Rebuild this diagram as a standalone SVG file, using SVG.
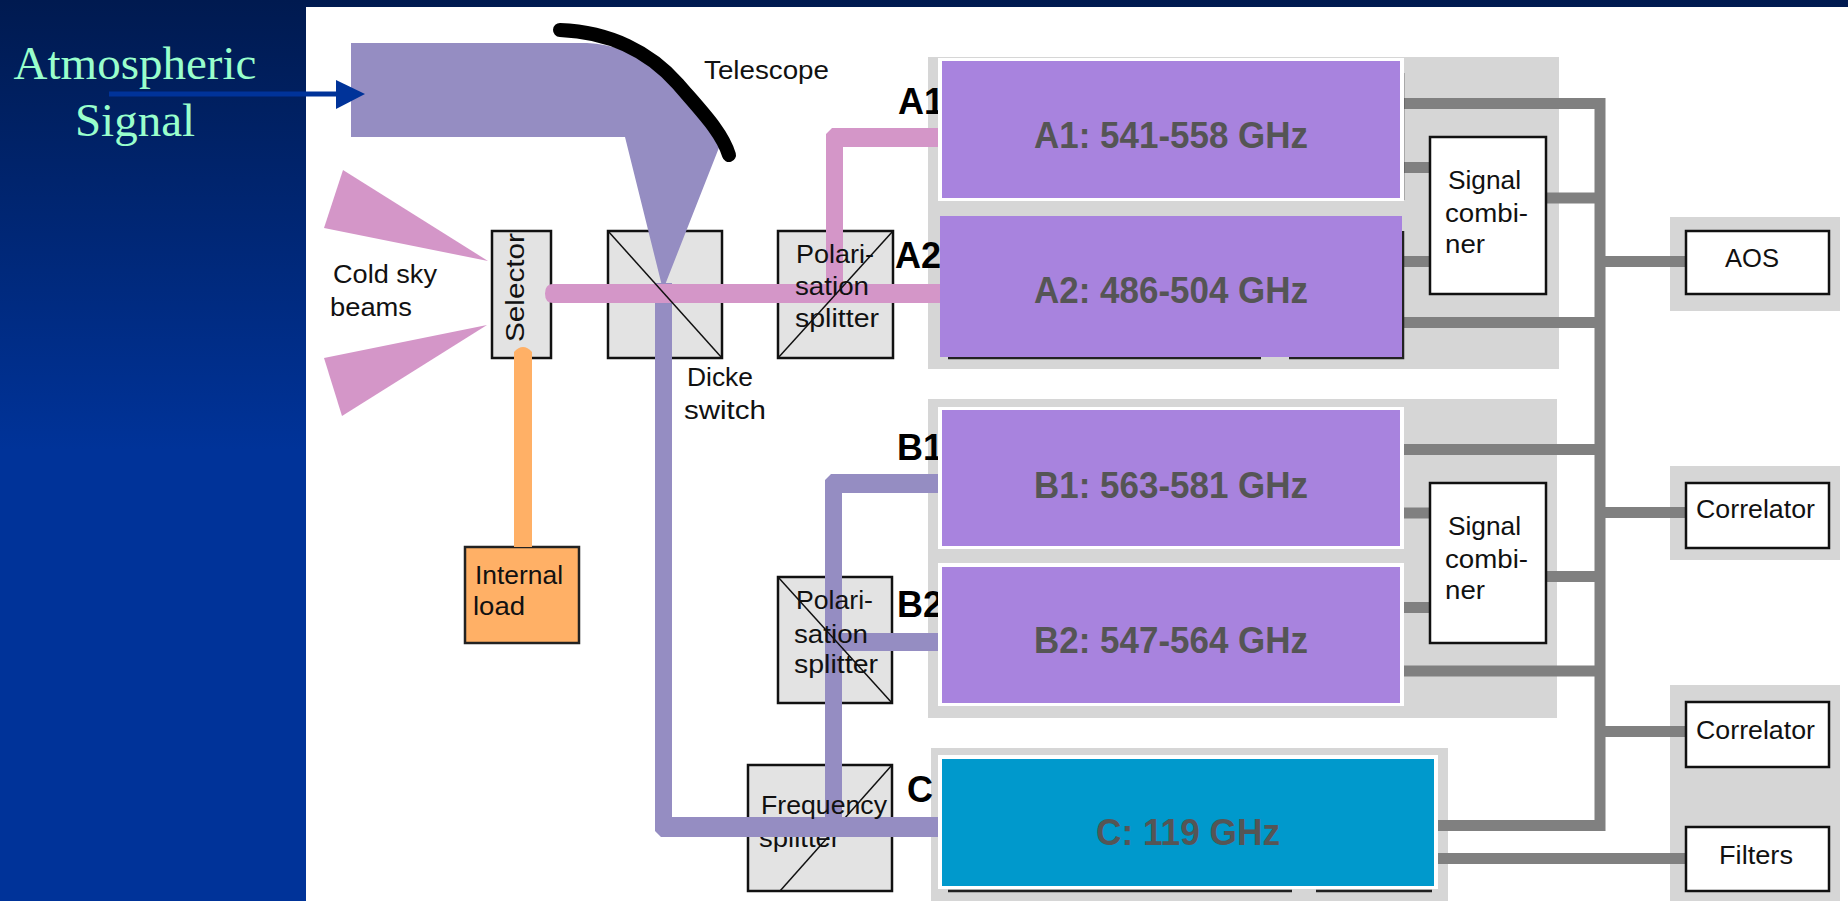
<svg xmlns="http://www.w3.org/2000/svg" width="1848" height="901" viewBox="0 0 1848 901">
<style>
.t{font-family:"Liberation Sans",Arial,sans-serif;font-size:25px;fill:#111}
.head{font-family:"Liberation Sans",Arial,sans-serif;font-size:36px;font-weight:bold;fill:#000}
.band{font-family:"Liberation Sans",Arial,sans-serif;font-size:36px;font-weight:bold;fill:#555}
.sig{font-family:"Liberation Serif","Times New Roman",serif;font-size:47px;fill:#99FFCC;text-anchor:middle}
.panel{fill:#D6D6D6}
.box{fill:#E3E3E3;stroke:#111;stroke-width:2.5}
.wbox{fill:#fff;stroke:#111;stroke-width:2.5}
.diag{stroke:#111;stroke-width:1.5;fill:none}
.purple{fill:#A883DE}
.edge{fill:#fff}
.sh{stroke:#222;stroke-width:2.5;fill:none}
.g{fill:none;stroke:#808080;stroke-width:11}
.pink{fill:#D496C8}
.blue{fill:#958DC2}
</style>
<defs>
<linearGradient id="bg" x1="0" y1="0" x2="0" y2="1">
<stop offset="0" stop-color="#001A50"/>
<stop offset="0.5" stop-color="#003399"/>
<stop offset="1" stop-color="#003399"/>
</linearGradient>
</defs>
<rect width="1848" height="901" fill="url(#bg)"/>
<rect x="306" y="7" width="1542" height="894" fill="#fff"/>
<g id="backdrops">
<rect class="panel" x="928" y="57" width="631" height="312"/>
<rect class="panel" x="928" y="399" width="629" height="319"/>
<rect class="panel" x="931" y="748" width="517" height="153"/>
<rect class="panel" x="1670" y="217" width="170" height="94"/>
<rect class="panel" x="1670" y="466" width="170" height="94"/>
<rect class="panel" x="1670" y="685" width="170" height="216"/>
</g>
<g id="cold-sky">
<polygon class="pink" points="343,170 324,228 488,261"/>
<polygon class="pink" points="324,358 342,416 487,325"/>
<text class="t" x="333" y="283" textLength="104" lengthAdjust="spacingAndGlyphs">Cold sky</text>
<text class="t" x="330" y="316" textLength="82" lengthAdjust="spacingAndGlyphs">beams</text>
</g>
<g id="selector">
<rect class="box" x="492" y="231" width="59" height="127"/>
<text class="t" transform="translate(524 342) rotate(-90)" textLength="109" lengthAdjust="spacingAndGlyphs">Selector</text>
</g>
<g id="dicke-switch">
<rect class="box" x="608" y="231" width="114" height="127"/>
</g>
<g id="polar-a">
<rect class="box" x="778" y="231" width="115" height="127"/>
</g>
<g id="polar-b">
<rect class="box" x="778" y="577" width="114" height="126"/>
</g>
<g id="freq-splitter">
<rect class="box" x="748" y="765" width="144" height="126"/>
<path class="diag" d="M892 765L780 891"/>
<text class="t" x="759" y="847" textLength="81" lengthAdjust="spacingAndGlyphs">splitter</text>
</g>
<g id="internal-load">
<rect x="465" y="547" width="114" height="96" fill="#FFB066" stroke="#222" stroke-width="2.5"/>
<text class="t" x="475" y="584" textLength="88" lengthAdjust="spacingAndGlyphs">Internal</text>
<text class="t" x="473" y="615" textLength="52" lengthAdjust="spacingAndGlyphs">load</text>
</g>
<g id="telescope">
<path d="M351 43H587Q625 45 652 66Q690 100 722 140L663 290L625 137H351Z" fill="#958DC2"/>
<path d="M560 30C610 32 650 52 678 84C702 112 722 132 729 155" fill="none" stroke="#000" stroke-width="14" stroke-linecap="round"/>
<text class="t" x="704" y="79" textLength="125" lengthAdjust="spacingAndGlyphs">Telescope</text>
</g>
<g id="connectors">
<path d="M514 547V352Q523 342 532 352V547Z" fill="#FFB066"/>
<path class="blue" d="M655 283H672V817H945V837H661L655 831Z"/>
<path class="blue" d="M825 817V480L831 474H945V493H842V633H945V651H842V817Z"/>
<path class="pink" d="M826 284V134L832 128H945V147H843V284H945V303H553Q545 303 545 293.500Q545 284 553 284Z"/>
<path class="g" d="M1404 103.500H1600V825.500H1438"/>
<path class="g" d="M1404 167.500H1430M1404 261.500H1430M1546 198H1600M1404 322.500H1600M1605 261.500H1686"/>
<path class="g" d="M1404 449.500H1600M1404 513H1430M1404 607.500H1430M1546 576.500H1600M1404 671H1600M1605 512.500H1686M1605 731.500H1686M1438 858.500H1686"/>
</g>
<g id="switch-marks">
<path class="diag" d="M608 231L722 358"/>
<path class="diag" d="M893 231L778 358"/>
<path class="diag" d="M778 577L892 703"/>
</g>
<g id="polar-a-label">
<text class="t" x="796" y="263" textLength="78" lengthAdjust="spacingAndGlyphs">Polari-</text>
<text class="t" x="795" y="295" textLength="74" lengthAdjust="spacingAndGlyphs">sation</text>
<text class="t" x="795" y="327" textLength="84" lengthAdjust="spacingAndGlyphs">splitter</text>
</g>
<g id="polar-b-label">
<text class="t" x="796" y="609" textLength="77" lengthAdjust="spacingAndGlyphs">Polari-</text>
<text class="t" x="794" y="643" textLength="74" lengthAdjust="spacingAndGlyphs">sation</text>
<text class="t" x="794" y="673" textLength="84" lengthAdjust="spacingAndGlyphs">splitter</text>
</g>
<g id="freq-splitter-label">
<text class="t" x="761" y="814" textLength="126" lengthAdjust="spacingAndGlyphs">Frequency</text>
</g>
<g id="dicke-label">
<text class="t" x="687" y="386" textLength="66" lengthAdjust="spacingAndGlyphs">Dicke</text>
<text class="t" x="684" y="419" textLength="82" lengthAdjust="spacingAndGlyphs">switch</text>
</g>
<g id="channel-labels">
<text class="head" x="898" y="114">A1</text>
<text class="head" x="895" y="268">A2</text>
<text class="head" x="897" y="460">B1</text>
<text class="head" x="897" y="617">B2</text>
<text class="head" x="907" y="802">C</text>
</g>
<g id="rx-a1">
<path class="sh" d="M1403 73V200"/>
<rect class="edge" x="938" y="58" width="466" height="143"/>
<rect class="purple" x="942" y="61" width="458" height="137"/>
<text class="band" x="1034" y="148" textLength="274" lengthAdjust="spacingAndGlyphs">A1: 541-558 GHz</text>
</g>
<g id="rx-a2">
<path class="sh" d="M1403 231V358H1289M1261 358H948"/>
<rect class="purple" x="940" y="216" width="462" height="141"/>
<text class="band" x="1034" y="303" textLength="274" lengthAdjust="spacingAndGlyphs">A2: 486-504 GHz</text>
</g>
<g id="rx-b1">
<rect class="edge" x="938" y="407" width="466" height="142"/>
<rect class="purple" x="942" y="410" width="458" height="136"/>
<text class="band" x="1034" y="498" textLength="274" lengthAdjust="spacingAndGlyphs">B1: 563-581 GHz</text>
</g>
<g id="rx-b2">
<rect class="edge" x="938" y="563" width="466" height="143"/>
<rect class="purple" x="942" y="567" width="458" height="136"/>
<text class="band" x="1034" y="653" textLength="274" lengthAdjust="spacingAndGlyphs">B2: 547-564 GHz</text>
</g>
<g id="rx-c">
<path class="sh" d="M948 891H1292M1316 891H1432"/>
<rect class="edge" x="938" y="755" width="500" height="134"/>
<rect x="942" y="759" width="492" height="127" fill="#0099CC"/>
<text class="band" x="1096" y="845" textLength="184" lengthAdjust="spacingAndGlyphs">C: 119 GHz</text>
</g>
<g id="combiner-a">
<rect class="wbox" x="1430" y="137" width="116" height="157"/>
<text class="t" x="1448" y="189" textLength="73" lengthAdjust="spacingAndGlyphs">Signal</text>
<text class="t" x="1445" y="222" textLength="83" lengthAdjust="spacingAndGlyphs">combi-</text>
<text class="t" x="1445" y="253" textLength="40" lengthAdjust="spacingAndGlyphs">ner</text>
</g>
<g id="combiner-b">
<rect class="wbox" x="1430" y="483" width="116" height="160"/>
<text class="t" x="1448" y="535" textLength="73" lengthAdjust="spacingAndGlyphs">Signal</text>
<text class="t" x="1445" y="568" textLength="83" lengthAdjust="spacingAndGlyphs">combi-</text>
<text class="t" x="1445" y="599" textLength="40" lengthAdjust="spacingAndGlyphs">ner</text>
</g>
<g id="aos">
<rect class="wbox" x="1686" y="231" width="143" height="63"/>
<text class="t" x="1725" y="267" textLength="54" lengthAdjust="spacingAndGlyphs">AOS</text>
</g>
<g id="correlator-1">
<rect class="wbox" x="1686" y="483" width="143" height="65"/>
<text class="t" x="1696" y="518" textLength="119" lengthAdjust="spacingAndGlyphs">Correlator</text>
</g>
<g id="correlator-2">
<rect class="wbox" x="1686" y="702" width="143" height="65"/>
<text class="t" x="1696" y="739" textLength="119" lengthAdjust="spacingAndGlyphs">Correlator</text>
</g>
<g id="filters">
<rect class="wbox" x="1686" y="827" width="143" height="64"/>
<text class="t" x="1719" y="864" textLength="74" lengthAdjust="spacingAndGlyphs">Filters</text>
</g>
<g id="signal-label">
<text class="sig" x="135" y="79">Atmospheric</text>
<text class="sig" x="135" y="136">Signal</text>
<path d="M109 94H340" stroke="#003399" stroke-width="5" fill="none"/>
<polygon points="336,80 365,94 336,109" fill="#003399"/>
</g>
</svg>
